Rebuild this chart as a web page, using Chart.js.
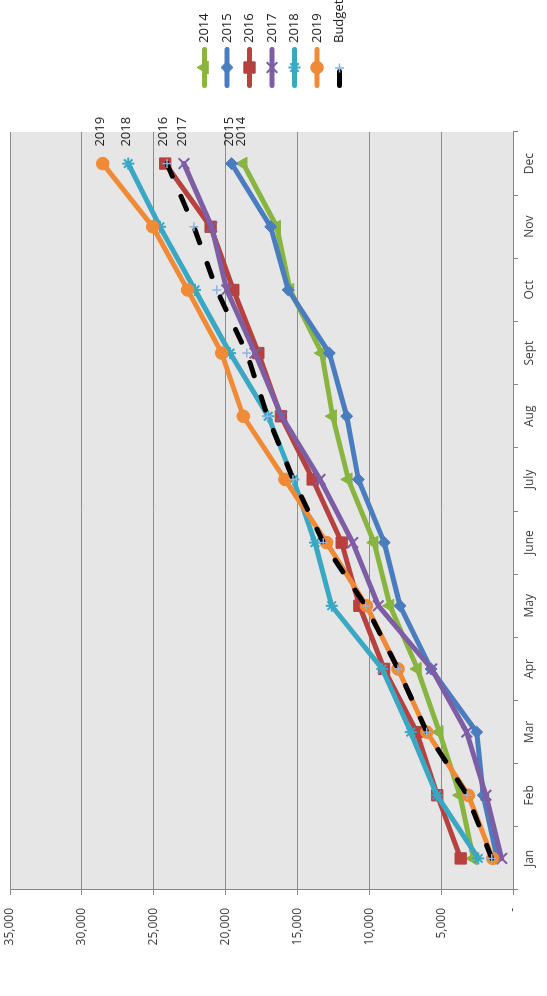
<!DOCTYPE html>
<html>
<head>
<meta charset="utf-8">
<title>Cumulative sales by year</title>
<script src="https://cdn.jsdelivr.net/npm/chart.js@4.4.1/dist/chart.umd.min.js"></script>
<style>
  html, body { margin: 0; padding: 0; background: #fff; }
  body { width: 547px; height: 996px; overflow: hidden; position: relative; }
  /* the chart is laid out landscape and turned a quarter turn to the left */
  #wrap {
    position: absolute; left: 0; top: 0;
    width: 996px; height: 547px;
    transform-origin: 0 0;
    transform: translate(0px, 996px) rotate(-90deg);
  }
</style>
</head>
<body>
<div id="wrap"><canvas id="salesChart" width="996" height="547"></canvas></div>
<script>
const months = ['Jan', 'Feb', 'Mar', 'Apr', 'May', 'June', 'July', 'Aug', 'Sept', 'Oct', 'Nov', 'Dec'];

const y2014 = [2760, 3690, 5130, 6650, 8560, 9660, 11460, 12550, 13310, 15520, 16440, 18770];
const y2015 = [1100, 2070, 2530, 5700, 7860, 8960, 10760, 11570, 12780, 15640, 16860, 19580];
const y2016 = [3640, 5270, 6700, 8970, 10690, 11920, 13940, 16150, 17720, 19460, 21040, 24200];
const y2017 = [790, 1880, 3220, 5660, 9370, 11150, 13430, 16100, 17950, 19920, 20970, 22900];
const y2018 = [2410, 5300, 7120, 9100, 12620, 13780, 15290, 17030, 19690, 22130, 24570, 26770];
const y2019 = [1410, 3110, 6000, 8000, 10200, 12970, 15870, 18770, 20270, 22640, 25070, 28550];
const budget = [1480, 3180, 6000, 8000, 10250, 13200, 15300, 17080, 18530, 20620, 22200, 24080];

const axisMax = 35000;
const axisStep = 5000;

Chart.defaults.font.family = '"Open Sans", "DejaVu Sans", sans-serif';
Chart.defaults.font.size = 12;
Chart.defaults.color = '#404040';

function yearSeries(label, data, color, style, radius, order) {
  return {
    label: label,
    data: data,
    borderColor: color,
    backgroundColor: color,
    borderWidth: 5,
    borderCapStyle: 'round',
    borderJoinStyle: 'round',
    pointStyle: style,
    pointRadius: radius,
    pointBackgroundColor: color,
    pointBorderColor: color,
    pointBorderWidth: (style === 'crossRot' || style === 'star') ? 2 : 1,
    tension: 0,
    order: order,
    endLabel: true
  };
}

// grey plot area behind the grid
const plotBackground = {
  id: 'plotBackground',
  beforeDraw(chart) {
    const { ctx, chartArea: a } = chart;
    ctx.save();
    ctx.fillStyle = '#e6e6e6';
    ctx.fillRect(a.left, a.top, a.right - a.left, a.bottom - a.top);
    ctx.restore();
  }
};

// year names written next to the December points
const endLabels = {
  id: 'endLabels',
  afterDatasetsDraw(chart) {
    const ctx = chart.ctx;
    ctx.save();
    ctx.font = '13px "Open Sans", sans-serif';
    ctx.fillStyle = '#222';
    ctx.textBaseline = 'middle';
    ctx.textAlign = 'left';
    chart.data.datasets.forEach((ds, i) => {
      if (!ds.endLabel) return;
      const pts = chart.getDatasetMeta(i).data;
      const last = pts[pts.length - 1];
      ctx.fillText(ds.label, last.x + 17, last.y - 2);
    });
    ctx.restore();
  }
};

// Excel-like legend: short line with the marker in the middle
const sideLegend = {
  id: 'sideLegend',
  afterDraw(chart) {
    const ctx = chart.ctx;
    const x0 = 908, x1 = 949, top = 204.5, step = 22.5;
    ctx.save();
    chart.data.datasets.forEach((ds, i) => {
      const y = top + step * i;
      ctx.save();
      ctx.beginPath();
      ctx.rect(x0 - 1, y - 10, x1 - x0 + 2, 20);
      ctx.clip();
      ctx.beginPath();
      ctx.lineWidth = ds.borderWidth;
      ctx.strokeStyle = ds.borderColor;
      ctx.lineCap = 'round';
      ctx.setLineDash(ds.borderDash || []);
      ctx.moveTo(x0 + 2.5, y);
      ctx.lineTo(x1 - 2.5, y);
      ctx.stroke();
      ctx.restore();

      ctx.setLineDash([]);
      ctx.fillStyle = ds.pointBackgroundColor;
      ctx.strokeStyle = ds.pointBorderColor;
      ctx.lineWidth = ds.pointBorderWidth;
      const px = ds.endLabel ? (x0 + x1) / 2 : 928;
      if (Chart.helpers && Chart.helpers.drawPoint) {
        Chart.helpers.drawPoint(ctx, {
          pointStyle: ds.pointStyle, radius: ds.pointRadius, rotation: 0, borderWidth: ds.pointBorderWidth
        }, px, y);
      }

      ctx.fillStyle = '#222';
      ctx.font = '13px "Open Sans", sans-serif';
      ctx.textBaseline = 'middle';
      ctx.textAlign = 'left';
      ctx.fillText(ds.label, x1 + 4, y);
    });
    ctx.restore();
  }
};

const ctx = document.getElementById('salesChart').getContext('2d');
new Chart(ctx, {
  type: 'line',
  data: {
    labels: months,
    datasets: [
      yearSeries('2014', y2014, '#88b440', 'triangle', 7.5, 6),
      yearSeries('2015', y2015, '#4a7dbf', 'rectRot', 6, 5),
      yearSeries('2016', y2016, '#b6413f', 'rect', 8, 4),
      yearSeries('2017', y2017, '#7d5ea5', 'crossRot', 7.5, 3),
      yearSeries('2018', y2018, '#3aa7c3', 'star', 6, 2),
      yearSeries('2019', y2019, '#f08a36', 'circle', 6.3, 1),
      {
        label: 'Budget',
        data: budget,
        borderColor: '#000',
        backgroundColor: '#000',
        borderWidth: 5,
        borderDash: [14, 22],
        borderCapStyle: 'round',
        borderJoinStyle: 'round',
        pointStyle: 'cross',
        pointRadius: 4.5,
        pointBackgroundColor: '#8db3e2',
        pointBorderColor: '#8db3e2',
        pointBorderWidth: 1.5,
        tension: 0,
        order: 0
      }
    ]
  },
  options: {
    responsive: false,
    animation: false,
    devicePixelRatio: 1,
    layout: { padding: { left: 0, right: 132, top: 10, bottom: 0 } },
    plugins: {
      legend: { display: false },
      tooltip: { enabled: false }
    },
    scales: {
      x: {
        offset: true,
        grid: { offset: true, drawOnChartArea: false, tickLength: 5, color: '#868686' },
        border: { color: '#868686', width: 1 },
        ticks: { padding: 4, maxRotation: 0, autoSkip: false },
        afterFit(scale) { scale.height = 34; }
      },
      y: {
        min: 0,
        max: axisMax,
        grid: { color: '#8c8c8c', tickLength: 5 },
        border: { color: '#868686', width: 1 },
        ticks: {
          stepSize: axisStep,
          padding: 13,
          callback: v => v === 0 ? '-' : v.toLocaleString('en-US')
        },
        afterFit(scale) {
          scale.width = 106;
          scale.paddingTop = 0;
          scale.paddingBottom = 0;
        }
      }
    }
  },
  plugins: [plotBackground, endLabels, sideLegend]
});
</script>
</body>
</html>
